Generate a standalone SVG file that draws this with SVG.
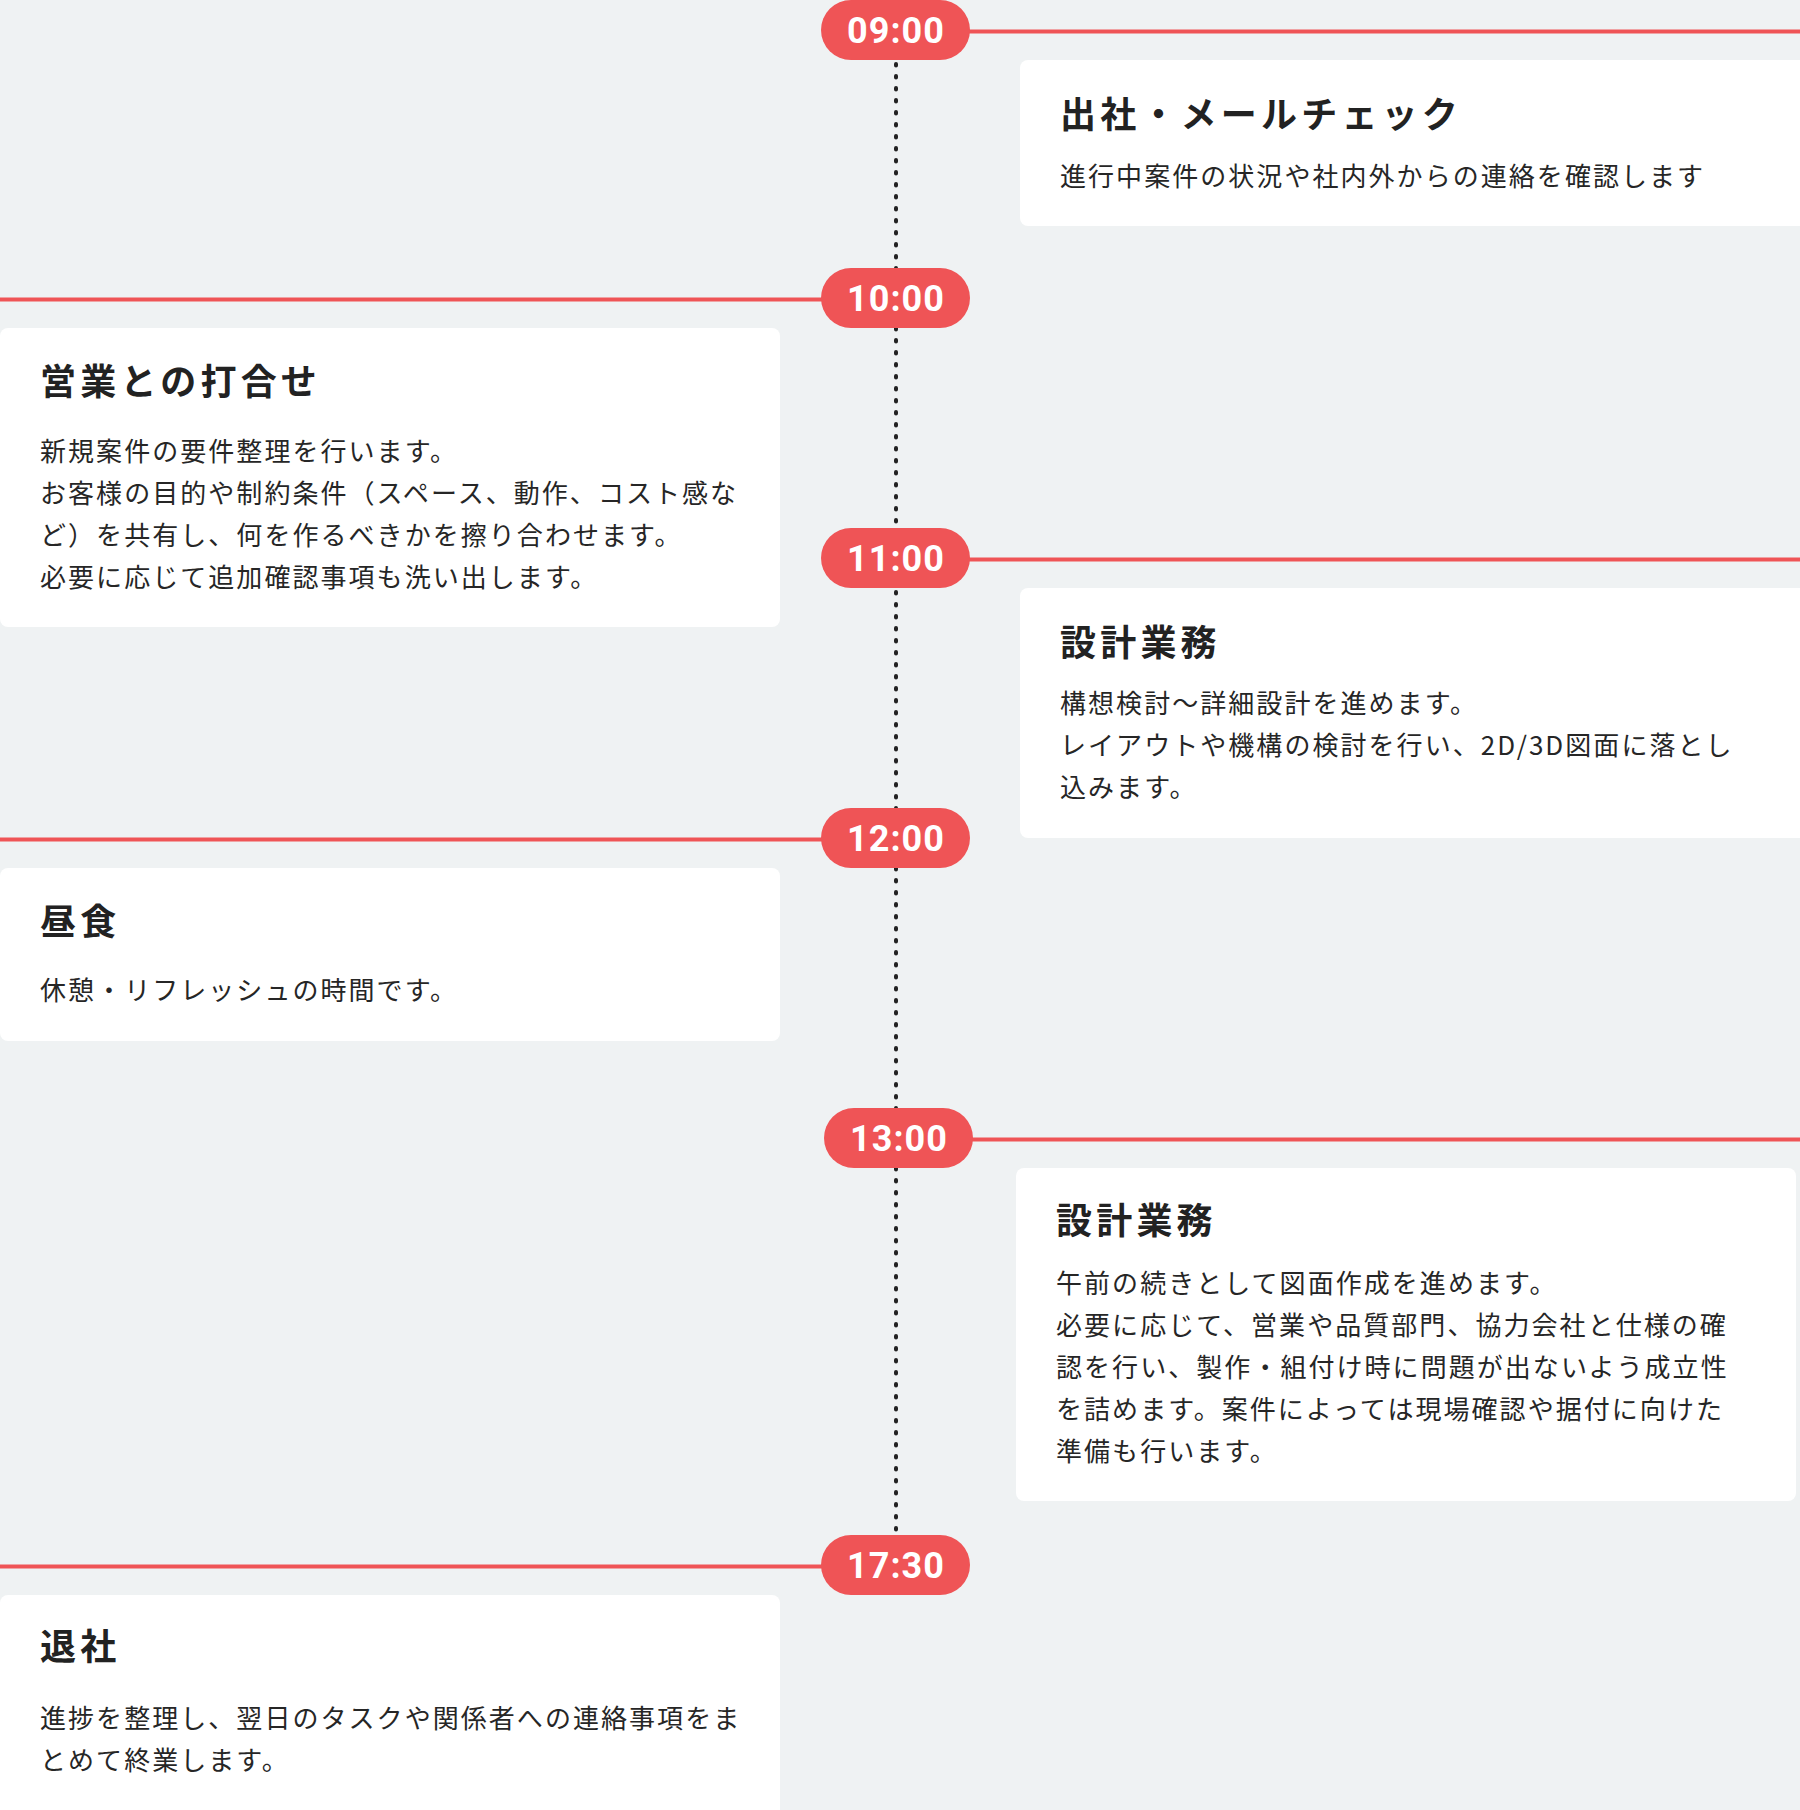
<svg xmlns="http://www.w3.org/2000/svg" width="1800" height="1810" viewBox="0 0 1800 1810">
<style>
.bg{fill:#eff2f3}
.card{fill:#ffffff}
.pill{fill:#ef5456}
.time{font-family:Roboto,"Noto Sans","Liberation Sans",sans-serif;font-weight:700;font-size:36px;fill:#ffffff;text-anchor:middle;letter-spacing:1px}
.title{font-family:"Noto Sans CJK JP","Noto Sans",sans-serif;font-weight:700;font-size:36px;fill:#222222;letter-spacing:4.2px}
.desc{font-family:"Noto Sans CJK JP","Noto Sans",sans-serif;font-weight:400;font-size:26px;fill:#262626;letter-spacing:2.05px}
.rail{stroke:#ef5456;stroke-width:4;fill:none}
.dots{stroke:#222222;stroke-width:4;stroke-linecap:round;stroke-dasharray:1.5 10.5;fill:none}
</style>
<rect class="bg" x="0" y="0" width="1800" height="1810"/>
<g id="connectors">
<line class="dots" x1="896" y1="64" x2="896" y2="1534"/>
<line class="rail" x1="968" y1="31.5" x2="1800" y2="31.5"/>
<line class="rail" x1="0" y1="299.5" x2="823" y2="299.5"/>
<line class="rail" x1="968" y1="559.5" x2="1800" y2="559.5"/>
<line class="rail" x1="0" y1="839.5" x2="823" y2="839.5"/>
<line class="rail" x1="971" y1="1139.5" x2="1800" y2="1139.5"/>
<line class="rail" x1="0" y1="1566.5" x2="823" y2="1566.5"/>
</g>
<g id="t0900">
<rect class="pill" x="821" y="0" width="149" height="60" rx="30"/>
<text class="time" x="896" y="43">09:00</text>
</g>
<g id="card-0900">
<rect class="card" x="1020" y="60" width="790" height="166" rx="8"/>
<text class="title" x="1060" y="128">出社・メールチェック</text>
<text class="desc" x="1060" y="186">進行中案件の状況や社内外からの連絡を確認します</text>
</g>
<g id="t1000">
<rect class="pill" x="821" y="268" width="149" height="60" rx="30"/>
<text class="time" x="896" y="311">10:00</text>
</g>
<g id="card-1000">
<rect class="card" x="0" y="328" width="780" height="299" rx="8"/>
<text class="title" x="40" y="395">営業との打合せ</text>
<text class="desc" x="40" y="461">新規案件の要件整理を行います。</text>
<text class="desc" x="40" y="503">お客様の目的や制約条件（スペース、動作、コスト感な</text>
<text class="desc" x="40" y="545">ど）を共有し、何を作るべきかを擦り合わせます。</text>
<text class="desc" x="40" y="587">必要に応じて追加確認事項も洗い出します。</text>
</g>
<g id="t1100">
<rect class="pill" x="821" y="528" width="149" height="60" rx="30"/>
<text class="time" x="896" y="571">11:00</text>
</g>
<g id="card-1100">
<rect class="card" x="1020" y="588" width="790" height="250" rx="8"/>
<text class="title" x="1060" y="656">設計業務</text>
<text class="desc" x="1060" y="713">構想検討～詳細設計を進めます。</text>
<text class="desc" x="1060" y="755">レイアウトや機構の検討を行い、2D/3D図面に落とし</text>
<text class="desc" x="1060" y="797">込みます。</text>
</g>
<g id="t1200">
<rect class="pill" x="821" y="808" width="149" height="60" rx="30"/>
<text class="time" x="896" y="851">12:00</text>
</g>
<g id="card-1200">
<rect class="card" x="0" y="868" width="780" height="173" rx="8"/>
<text class="title" x="40" y="935">昼食</text>
<text class="desc" x="40" y="1000">休憩・リフレッシュの時間です。</text>
</g>
<g id="t1300">
<rect class="pill" x="824" y="1108" width="149" height="60" rx="30"/>
<text class="time" x="899" y="1151">13:00</text>
</g>
<g id="card-1300">
<rect class="card" x="1016" y="1168" width="780" height="333" rx="8"/>
<text class="title" x="1056" y="1234">設計業務</text>
<text class="desc" x="1056" y="1293">午前の続きとして図面作成を進めます。</text>
<text class="desc" x="1056" y="1335">必要に応じて、営業や品質部門、協力会社と仕様の確</text>
<text class="desc" x="1056" y="1377">認を行い、製作・組付け時に問題が出ないよう成立性</text>
<text class="desc" x="1056" y="1419">を詰めます。案件によっては現場確認や据付に向けた</text>
<text class="desc" x="1056" y="1461">準備も行います。</text>
</g>
<g id="t1730">
<rect class="pill" x="821" y="1535" width="149" height="60" rx="30"/>
<text class="time" x="896" y="1578">17:30</text>
</g>
<g id="card-1730">
<rect class="card" x="0" y="1595" width="780" height="230" rx="8"/>
<text class="title" x="40" y="1660">退社</text>
<text class="desc" x="40" y="1728">進捗を整理し、翌日のタスクや関係者への連絡事項をま</text>
<text class="desc" x="40" y="1770">とめて終業します。</text>
</g>
</svg>
